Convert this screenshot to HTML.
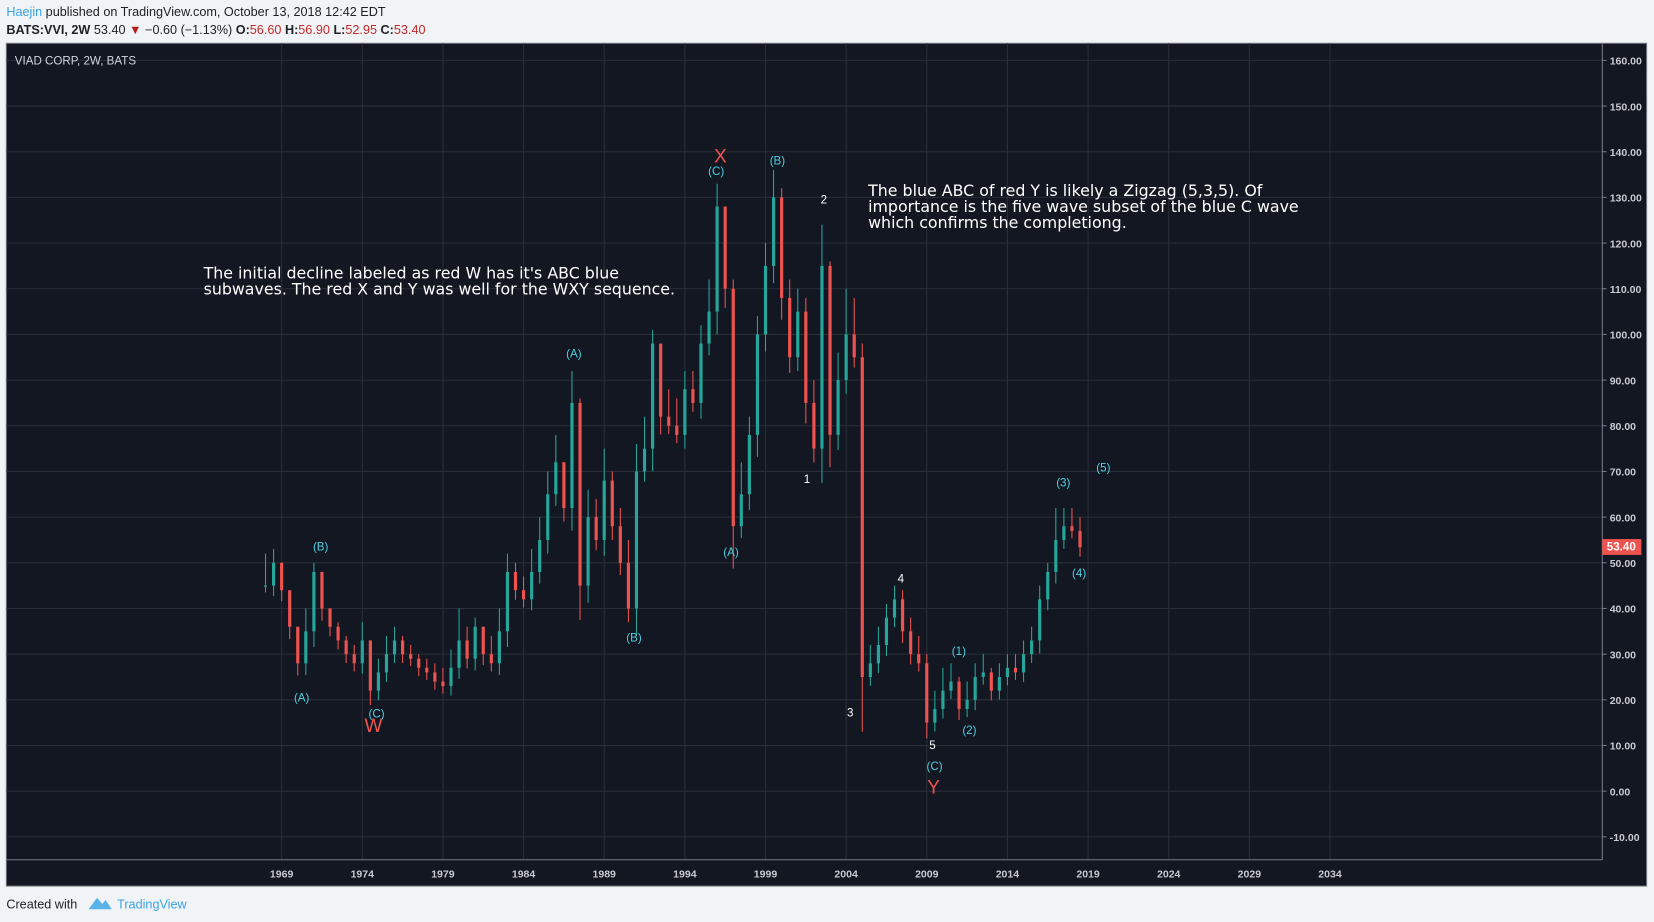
<!DOCTYPE html>
<html><head><meta charset="utf-8">
<style>
html,body{margin:0;padding:0;background:#f1f4f7;}
svg{display:block;font-family:"Liberation Sans",sans-serif;}
</style></head>
<body>
<svg id="c" width="1654" height="922" viewBox="0 0 1568 874" xmlns="http://www.w3.org/2000/svg">
<rect x="0" y="0" width="1568" height="874" fill="#f1f4f7"/>
<text x="6" y="15" font-size="12" fill="#222"><tspan fill="#3aa3e3">Haejin</tspan> published on TradingView.com, October 13, 2018 12:42 EDT</text>
<text x="6" y="32" font-size="12" fill="#222"><tspan font-weight="bold">BATS:VVI, 2W</tspan>  53.40 <tspan fill="#b71c1c">▼</tspan> −0.60 (−1.13%) <tspan font-weight="bold">O:</tspan><tspan fill="#c62828">56.60</tspan> <tspan font-weight="bold">H:</tspan><tspan fill="#c62828">56.90</tspan> <tspan font-weight="bold">L:</tspan><tspan fill="#c62828">52.95</tspan> <tspan font-weight="bold">C:</tspan><tspan fill="#c62828">53.40</tspan></text>
<rect x="6" y="41" width="1555" height="799" fill="#131722" stroke="#787b86" stroke-width="1"/>
<g id="grid"></g>
<line x1="1519" y1="41" x2="1519" y2="815" stroke="#787b86"/>
<line x1="6" y1="815" x2="1519" y2="815" stroke="#787b86"/>
<g id="axes"></g>
<g id="candles"></g>
<text x="14" y="61" font-size="11" fill="#d1d4dc">VIAD CORP, 2W, BATS</text>
<g font-size="11" fill="#4dd0e1" text-anchor="middle">
<text x="304" y="522">(B)</text><text x="286" y="665">(A)</text><text x="357" y="680">(C)</text>
<text x="544" y="339">(A)</text><text x="601" y="608">(B)</text><text x="679" y="166">(C)</text>
<text x="737" y="156">(B)</text><text x="693" y="527">(A)</text>
<text x="1008" y="461">(3)</text><text x="1046" y="447">(5)</text><text x="1023" y="547">(4)</text>
<text x="909" y="621">(1)</text><text x="919" y="696">(2)</text><text x="886" y="730">(C)</text>
<g fill="#fff"><text x="781" y="193">2</text><text x="765" y="458">1</text><text x="806" y="679">3</text><text x="854" y="552">4</text><text x="884" y="710">5</text></g>
<g fill="#ef5350" font-size="18"><text x="354" y="694">W</text><text x="683" y="154">X</text><text x="885" y="752">Y</text></g>
</g>
<g font-size="15" fill="#fff" font-family="DejaVu Sans, sans-serif">
<text x="193" y="264">The initial decline labeled as red W has it's ABC blue</text>
<text x="193" y="279">subwaves. The red X and Y was well for the WXY sequence.</text>
<text x="823" y="186">The blue ABC of red Y is likely a Zigzag (5,3,5). Of</text>
<text x="823" y="201">importance is the five wave subset of the blue C wave</text>
<text x="823" y="216">which confirms the completiong.</text>
</g>
<rect x="1519" y="511" width="37" height="15" fill="#ef5350"/>
<text x="1537" y="522" font-size="11" fill="#fff" text-anchor="middle" font-weight="bold">53.40</text>
<text x="6" y="861" font-size="12" fill="#222">Created with</text>
<path d="M84 862 L92 851 L97 857 L100 853 L106 862 Z" fill="#59b3e8"/>
<text x="111" y="861" font-size="12" fill="#3aa3e3">TradingView</text>
</svg>
<script>
const years=[1969,1974,1979,1984,1989,1994,1999,2004,2009,2014,2019,2024,2029,2034];
const priceTicks=[-10,0,10,20,30,40,50,60,70,80,90,100,110,120,130,140,150,160];
const dates=[1968.0,1968.5,1969,1969.5,1970,1970.5,1971,1971.5,1972,1972.5,1973,1973.5,1974,1974.5,1975,1975.5,1976,1976.5,1977,1977.5,1978,1978.5,1979,1979.5,1980,1980.5,1981,1981.5,1982,1982.5,1983,1983.5,1984,1984.5,1985,1985.5,1986,1986.5,1987,1987.5,1988,1988.5,1989,1989.5,1990,1990.5,1991,1991.5,1992,1992.5,1993,1993.5,1994,1994.5,1995,1995.5,1996,1996.5,1997,1997.5,1998,1998.5,1999,1999.5,2000,2000.5,2001,2001.5,2002,2002.5,2003,2003.5,2004,2004.5,2005,2005.5,2006,2006.5,2007,2007.5,2008,2008.5,2009,2009.5,2010,2010.5,2011,2011.5,2012,2012.5,2013,2013.5,2014,2014.5,2015,2015.5,2016,2016.5,2017,2017.5,2018,2018.5];
const closes=[45,50,44,36,28,35,48,40,36,33,30,28,33,22,26,30,33,30,29,27,26,24,23,27,33,29,36,30,28,35,48,44,42,48,55,65,72,62,85,45,60,55,68,58,50,40,70,75,98,82,80,78,88,85,98,105,128,110,58,65,78,100,115,130,108,95,105,85,75,115,78,90,100,95,25,28,32,38,42,35,30,28,15,18,22,24,18,20,25,26,22,25,27,26,30,33,42,48,55,58,57,53.4];
const highs=[52,53,50,42,36,40,50,48,40,37,34,32,37,33,29,34,36,34,32,30,29,28,27,31,40,36,38,36,34,40,52,50,47,53,60,70,78,72,92,86,66,64,75,70,62,55,76,82,101,98,88,86,92,92,102,112,133,128,112,72,82,104,120,136,132,112,110,108,90,124,116,96,110,108,98,32,36,41,45,44,38,34,30,22,27,28,25,24,28,30,27,28,30,30,33,36,45,50,62,62,62,60];
const x=y=>267+(y-1969)*15.29;
const yv=v=>750-v*4.33;
const NS="http://www.w3.org/2000/svg";
const grid=document.getElementById('grid'),axes=document.getElementById('axes'),cg=document.getElementById('candles');
function mk(tag,at,par){const e=document.createElementNS(NS,tag);for(const k in at)e.setAttribute(k,at[k]);par.appendChild(e);return e;}
years.forEach(yr=>{
  const l=mk('line',{x1:x(yr),x2:x(yr),y1:41,y2:815,stroke:'#2a2e39'},grid);
  
  
  const t=mk('text',{x:x(yr),y:832,'font-size':10,fill:'#c8cad0','text-anchor':'middle','font-weight':'bold'},axes);
  t.textContent=yr;
  
  
});
priceTicks.forEach(p=>{
  const l=mk('line',{x1:6,x2:1519,y1:yv(p),y2:yv(p),stroke:'#2a2e39'},grid);
  
  
  mk('line',{x1:1519,x2:1523,y1:yv(p),y2:yv(p),stroke:'#787b86'},axes);
  const t=mk('text',{x:1526,y:yv(p)+4,'font-size':10,fill:'#c8cad0','font-weight':'bold'},axes);
  t.textContent=p.toFixed(2);
  
  
});
for(let i=0;i<closes.length;i++){
  const o=i?closes[i-1]:closes[0], c=closes[i];
  const hi=Math.max(highs[i],o,c), lo=Math.min(o,c)-(Math.abs(c-o)*0.15+1.5);
  const col=c>=o?'#26a69a':'#ef5350';
  const w=mk('line',{x1:x(dates[i]),x2:x(dates[i]),y1:yv(hi),y2:yv(lo),stroke:col,'stroke-width':1},cg);
  
  
  const b=mk('rect',{x:x(dates[i])-1.5,y:yv(Math.max(o,c)),width:3,height:Math.max(1,Math.abs(yv(o)-yv(c))),fill:col},cg);
  
  
}
</script>
</body></html>
